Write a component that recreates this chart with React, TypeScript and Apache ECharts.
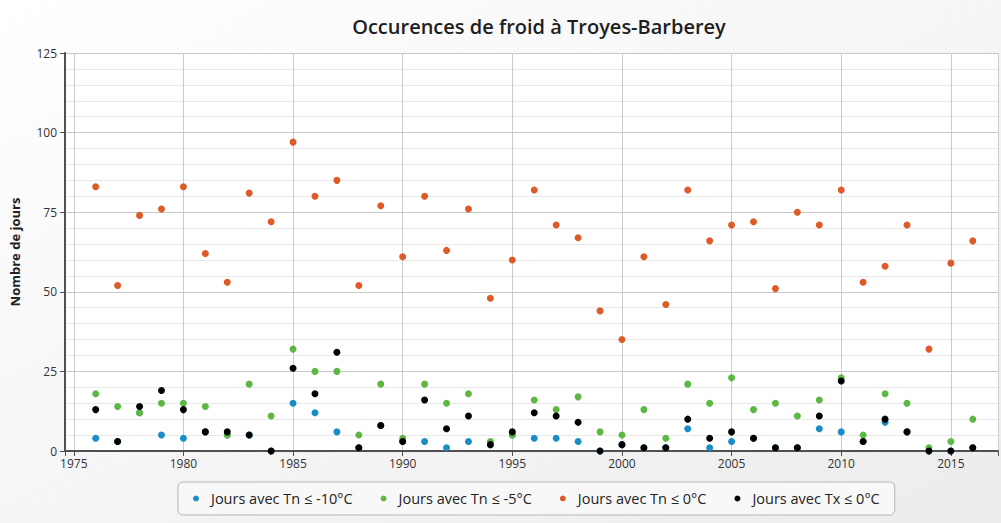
import React, { useEffect, useRef } from "react";
import * as echarts from "echarts";

const years: number[] = [
  1976, 1977, 1978, 1979, 1980, 1981, 1982, 1983, 1984, 1985,
  1986, 1987, 1988, 1989, 1990, 1991, 1992, 1993, 1994, 1995,
  1996, 1997, 1998, 1999, 2000, 2001, 2002, 2003, 2004, 2005,
  2006, 2007, 2008, 2009, 2010, 2011, 2012, 2013, 2014, 2015, 2016,
];

// Jours avec Tn <= -10°C
const tnMinus10: number[] = [
  4, 3, 12, 5, 4, 6, 5, 5, 0, 15,
  12, 6, 1, 8, 3, 3, 1, 3, 2, 5,
  4, 4, 3, 0, 2, 1, 1, 7, 1, 3,
  4, 1, 1, 7, 6, 3, 9, 6, 0, 0, 1,
];

// Jours avec Tn <= -5°C
const tnMinus5: number[] = [
  18, 14, 12, 15, 15, 14, 5, 21, 11, 32,
  25, 25, 5, 21, 4, 21, 15, 18, 3, 5,
  16, 13, 17, 6, 5, 13, 4, 21, 15, 23,
  13, 15, 11, 16, 23, 5, 18, 15, 1, 3, 10,
];

// Jours avec Tn <= 0°C
const tnZero: number[] = [
  83, 52, 74, 76, 83, 62, 53, 81, 72, 97,
  80, 85, 52, 77, 61, 80, 63, 76, 48, 60,
  82, 71, 67, 44, 35, 61, 46, 82, 66, 71,
  72, 51, 75, 71, 82, 53, 58, 71, 32, 59, 66,
];

// Jours avec Tx <= 0°C
const txZero: number[] = [
  13, 3, 14, 19, 13, 6, 6, 5, 0, 26,
  18, 31, 1, 8, 3, 16, 7, 11, 2, 6,
  12, 11, 9, 0, 2, 1, 1, 10, 4, 6,
  4, 1, 1, 11, 22, 3, 10, 6, 0, 0, 1,
];

const seriesNames: string[] = [
  "Jours avec Tn ≤ -10°C",
  "Jours avec Tn ≤ -5°C",
  "Jours avec Tn ≤ 0°C",
  "Jours avec Tx ≤ 0°C",
];

const colors: string[] = ["#1a8dc6", "#5db843", "#de5b29", "#000000"];

const FONT = "'Open Sans', 'Noto Sans', sans-serif";

export default function App() {
  const ref = useRef<HTMLDivElement>(null);

  useEffect(() => {
    if (!ref.current) return;
    const chart = echarts.init(ref.current, undefined, { renderer: "svg" });
    const allData = [tnMinus10, tnMinus5, tnZero, txZero];
    const option: any = {
      animation: false,
      backgroundColor: {
        type: "linear",
        x: 0,
        y: 0,
        x2: 1,
        y2: 1,
        colorStops: [
          { offset: 0, color: "#ffffff" },
          { offset: 1, color: "#ececec" },
        ],
      },
      textStyle: { fontFamily: FONT },
      title: {
        text: "Occurences de froid à Troyes-Barberey",
        left: 534,
        textAlign: "center",
        top: 11,
        textStyle: {
          fontFamily: FONT,
          fontSize: 20,
          fontWeight: 600,
          color: "#1e1e1e",
        },
      },
      grid: {
        left: 65,
        right: 1,
        top: 53,
        bottom: 72,
        show: true,
        backgroundColor: "#ffffff",
        borderWidth: 0,
      },
      xAxis: {
        type: "value",
        min: 1974.6,
        max: 2017.15,
        minInterval: 5,
        maxInterval: 5,
        axisLine: { show: true, lineStyle: { color: "#505050", width: 2 } },
        axisTick: { show: true, length: 5, lineStyle: { color: "#505050" } },
        axisLabel: {
          margin: 6,
          fontSize: 12,
          color: "#333",
          fontFamily: FONT,
          formatter: (v: number) =>
            Math.abs(v - Math.round(v)) < 1e-6 && Math.round(v) % 5 === 0
              ? String(Math.round(v))
              : "",
        },
        splitLine: { show: true, lineStyle: { color: "#cccccc", width: 1 } },
      },
      yAxis: {
        type: "value",
        min: 0,
        max: 125,
        interval: 25,
        name: "Nombre de jours",
        nameLocation: "middle",
        nameGap: 44,
        nameTextStyle: {
          fontFamily: FONT,
          fontSize: 13,
          fontWeight: "bold",
          color: "#222",
        },
        axisLine: { show: true, lineStyle: { color: "#505050", width: 2 } },
        axisTick: { show: true, length: 5, lineStyle: { color: "#505050" } },
        axisLabel: { margin: 8, fontSize: 12, color: "#333", fontFamily: FONT },
        splitLine: { show: true, lineStyle: { color: "#c8c8c8", width: 1 } },
        minorTick: { show: false, splitNumber: 5 },
        minorSplitLine: { show: true, lineStyle: { color: "#e8e8e8", width: 1 } },
      },
      legend: {
        left: 178,
        top: 482,
        orient: "horizontal",
        icon: "circle",
        itemWidth: 20,
        itemHeight: 6,
        itemGap: 28,
        padding: [9, 15],
        borderColor: "#b5b5b5",
        borderWidth: 1,
        borderRadius: 5,
        backgroundColor: "#f8f8f8",
        textStyle: { fontFamily: FONT, fontSize: 14.5, color: "#222" },
        data: seriesNames,
      },
      series: seriesNames.map((name, i) => ({
        name,
        type: "scatter",
        symbol: "circle",
        symbolSize: 7,
        itemStyle: { color: colors[i], opacity: 1 },
        data: years.map((y, j) => [y, allData[i][j]]),
        z: 2 + i,
      })),
    };
    chart.setOption(option);
    return () => chart.dispose();
  }, []);

  return (
    <div
      ref={ref}
      style={{ position: "fixed", left: 0, top: 0, width: 1001, height: 523 }}
    />
  );
}
